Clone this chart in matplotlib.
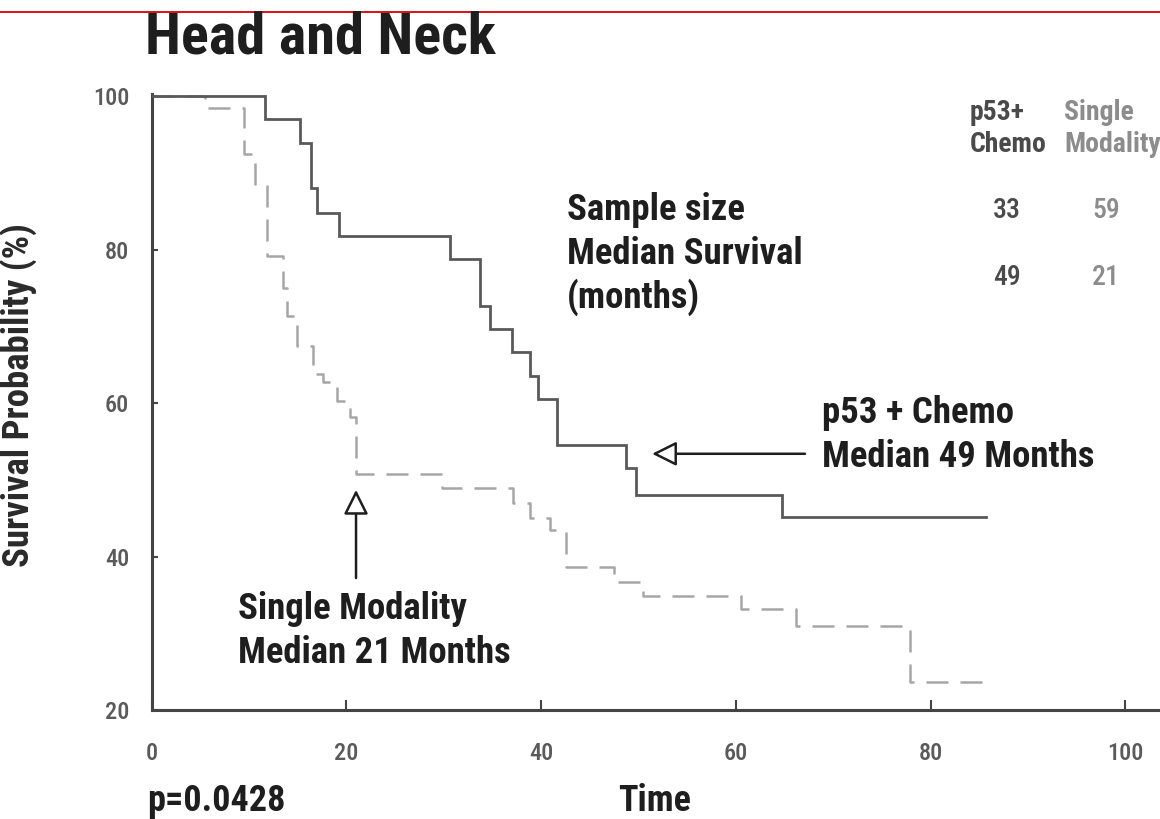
import matplotlib
matplotlib.use("Agg")
import matplotlib.pyplot as plt
from matplotlib.lines import Line2D

plt.rcParams['font.family'] = ['Roboto Condensed', 'DejaVu Sans']

# ===== DATA =====
chemo_t = [0, 11.7, 15.2, 16.4, 17.0, 19.3, 30.7, 33.7, 34.8, 37.0, 38.9, 39.7, 41.6, 48.7, 49.7, 64.7, 85.7]
chemo_s = [100, 97.0, 93.9, 88.0, 84.8, 81.8, 78.8, 72.7, 69.7, 66.7, 63.6, 60.6, 54.5, 51.5, 48.0, 45.1, 45.1]

single_t = [0, 5.5, 9.5, 10.6, 11.9, 13.5, 13.9, 14.9, 16.6, 17.6, 19.0, 20.4, 21.0, 29.8, 37.1, 38.9,
            40.9, 42.6, 47.5, 50.5, 60.5, 66.2, 77.9, 86.4]
single_s = [100, 98.5, 92.5, 88.5, 79.2, 75.0, 71.4, 67.5, 63.8, 62.7, 60.3, 58.2, 50.8, 49.0, 47.0, 45.0,
            43.4, 38.7, 36.7, 34.9, 33.2, 31.0, 23.6, 23.6]

x_ticks = [0, 20, 40, 60, 80, 100]
y_ticks = [20, 40, 60, 80, 100]

table_cols = ["p53+\nChemo", "Single\nModality"]
sample_size = [33, 59]
median_surv = [49, 21]
p_value = "p=0.0428"

W, H = 1160, 819
fig = plt.figure(figsize=(W / 100, H / 100), dpi=100)
ax = fig.add_axes([151.5 / W, (H - 710) / H, (W - 151.5) / W, 616 / H])
ax.set_xlim(0, 103.55)
ax.set_ylim(20, 100.3)

# ===== CURVES =====
ax.step(single_t, single_s, where='post', color='#a6a6a6', lw=1.8, dashes=(8.8, 4.8), zorder=2)
ax.step(chemo_t, chemo_s, where='post', color='#595959', lw=2.0, solid_joinstyle='miter', zorder=3)

# ===== AXES =====
for s in ['top', 'right']:
    ax.spines[s].set_visible(False)
for s in ['left', 'bottom']:
    ax.spines[s].set_linewidth(2.2)
    ax.spines[s].set_color('#444444')
ax.set_xticks(x_ticks)
ax.set_yticks(y_ticks)
ax.tick_params(axis='x', direction='in', length=7, width=1.5, color='#444444',
               pad=23, labelsize=17.5, labelcolor='#5a5a5a')
ax.tick_params(axis='y', direction='in', length=4.5, width=1.5, color='#444444',
               pad=16, labelsize=17.5, labelcolor='#5a5a5a')
for lab in ax.get_xticklabels() + ax.get_yticklabels():
    lab.set_fontweight('medium')

# ===== TEXTS =====
def ftext(x, y, s, **kw):
    fig.text(x / W, 1 - y / H, s, **kw)

ftext(145, 53, "Head and Neck", fontsize=42, fontweight='bold', color='#1e1e1e', va='baseline')
ftext(29, 395, "Survival Probability (%)", fontsize=26.5, fontweight='bold', color='#2a2a2a',
      rotation=90, rotation_mode='anchor', ha='center', va='baseline')
ftext(147, 811, p_value, fontsize=26, fontweight='bold', color='#1e1e1e', va='baseline')
ftext(655, 811, "Time", fontsize=26, fontweight='bold', color='#1e1e1e', ha='center', va='baseline')

for i, line in enumerate(["Sample size", "Median Survival", "(months)"]):
    ftext(567, 220 + 44 * i, line, fontsize=26.5, fontweight='bold', color='#1e1e1e', va='baseline')

col_x = [970, 1064]
col_c = [1007, 1106]
col_color = ['#4a4a4a', '#8c8c8c']
for j in range(2):
    for k, part in enumerate(table_cols[j].split("\n")):
        ftext(col_x[j], 120 + 32 * k, part, fontsize=20, fontweight='bold', color=col_color[j], va='baseline')
    ftext(col_c[j], 218, str(sample_size[j]), fontsize=20, fontweight='medium', color=col_color[j],
          ha='center', va='baseline')
    ftext(col_c[j], 285, str(median_surv[j]), fontsize=20, fontweight='medium', color=col_color[j],
          ha='center', va='baseline')

ftext(822, 423, "p53 + Chemo", fontsize=26.5, fontweight='bold', color='#1e1e1e', va='baseline')
ftext(822, 467, "Median 49 Months", fontsize=26.5, fontweight='bold', color='#1e1e1e', va='baseline')
ftext(238, 619, "Single Modality", fontsize=26.5, fontweight='bold', color='#1e1e1e', va='baseline')
ftext(238, 663, "Median 21 Months", fontsize=26.5, fontweight='bold', color='#1e1e1e', va='baseline')

# ===== ARROWS =====
arrow = dict(arrowstyle='-|>,head_length=0.6,head_width=0.3', fc='white', ec='#1e1e1e',
             lw=1.8, mutation_scale=25, shrinkA=0, shrinkB=0)
ax.annotate("", xy=(51.4, 53.4), xytext=(67.1, 53.4), arrowprops=arrow)
ax.annotate("", xy=(21.0, 48.7), xytext=(21.0, 37.2), arrowprops=arrow)

# red rule at the top
fig.add_artist(Line2D([0, 1], [1 - 12 / H] * 2, color='#e01010', lw=1.4))

fig.savefig("out.png", dpi=100)
